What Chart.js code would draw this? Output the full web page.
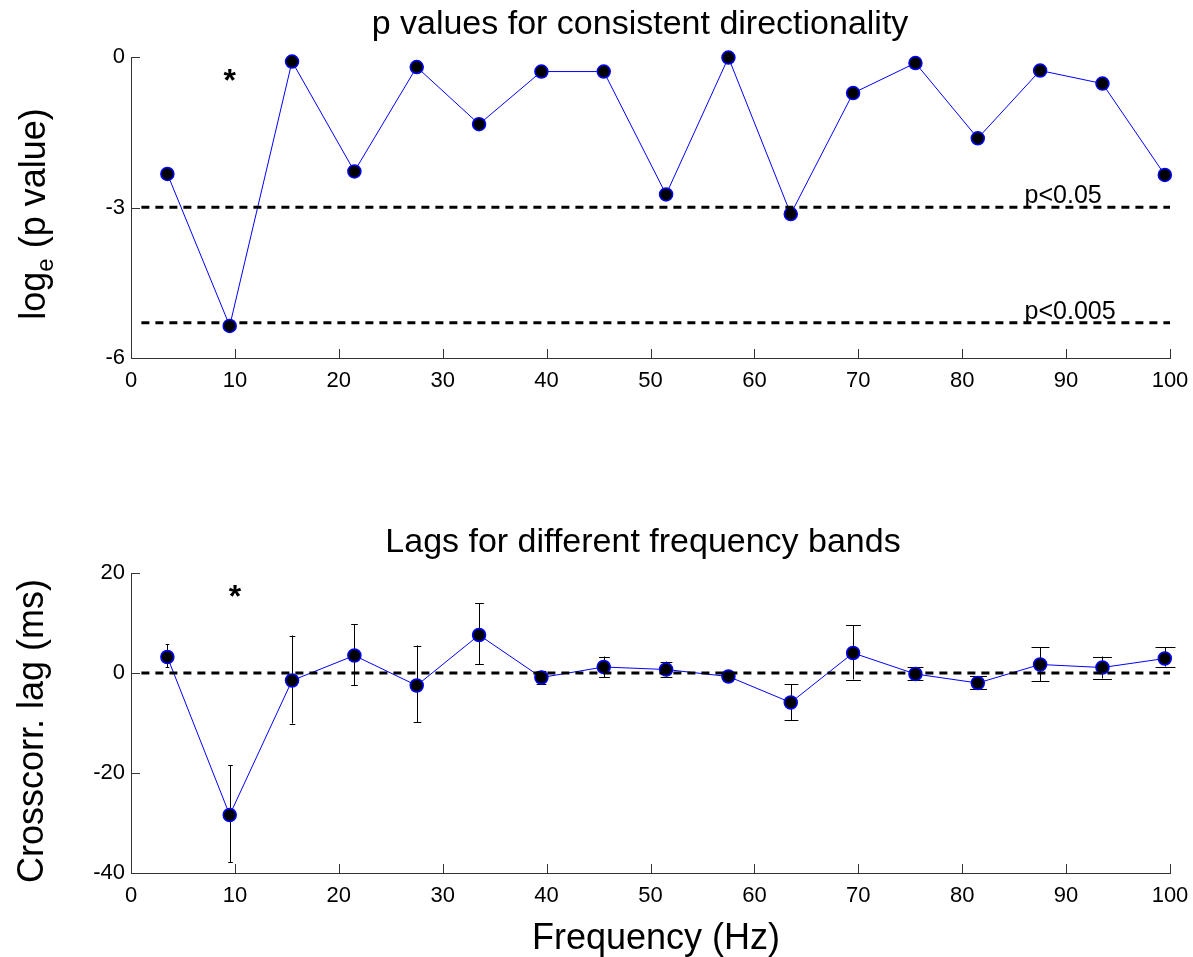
<!DOCTYPE html>
<html>
<head>
<meta charset="utf-8">
<script src="https://cdn.jsdelivr.net/npm/chart.js@4.4.1/dist/chart.umd.min.js"></script>
<style>
  body { margin: 0; background: #fff; width: 1193px; height: 957px; overflow: hidden; position: relative; }
  canvas { position: absolute; left: 0; }
</style>
</head>
<body>
<canvas id="pChart" width="1193" height="410" style="top:0"></canvas>
<canvas id="lagChart" width="1193" height="437" style="top:520px"></canvas>
<script>
// band centre frequencies (Hz)
const freqs = [3.5, 9.5, 15.5, 21.5, 27.5, 33.5, 39.5, 45.5, 51.5, 57.5, 63.5, 69.5, 75.5, 81.5, 87.5, 93.5, 99.5];

// top panel: log_e(p)
const logP = [-2.33, -5.36, -0.09, -2.28, -0.20, -1.34, -0.29, -0.29, -2.74, -0.01, -3.13, -0.72, -0.12, -1.62, -0.27, -0.53, -2.35];
const thresholdValues = [-2.996, -5.298];
const thresholdLabels = ['p<0.05', 'p<0.005'];
const thresholdSpan = [1, 100];
const thresholdLabelX = 86;

// bottom panel: crosscorrelation lag (ms) with error bar ends
const lagMean = [3.2, -28.4, -1.5, 3.5, -2.5, 7.6, -0.9, 1.2, 0.7, -0.7, -5.9, 4.0, -0.2, -2.0, 1.7, 1.1, 2.9];
const lagHigh = [5.7, -18.5, 7.5, 9.8, 5.5, 14.0, 0.5, 3.3, 2.3, -0.2, -2.2, 9.6, 1.2, -0.6, 5.1, 3.3, 5.2];
const lagLow = [1.2, -37.8, -10.1, -2.4, -9.8, 1.8, -2.3, -0.8, -0.7, -1.2, -9.4, -1.3, -1.3, -3.2, -1.6, -1.1, 1.3];
const zeroLine = [0, 0];

// axis ticks
const xTicks = [0, 10, 20, 30, 40, 50, 60, 70, 80, 90, 100];
const pTicks = [-6, -3, 0];
const lagTicks = [-40, -20, 0, 20];

// significance stars
const starTop = { x: 9.5, y: -0.39 };
const starBottom = { x: 10, y: 16.1 };

const FONT = "'Liberation Sans', Arial, Helvetica, sans-serif";
const AXIS_COLOR = '#333333';

const toXY = (xs, ys) => xs.map((x, i) => ({ x: x, y: ys[i] }));

// inward ticks, MATLAB style
const inwardTicks = {
  id: 'inwardTicks',
  afterDraw(chart) {
    const ctx = chart.ctx;
    const xs = chart.scales.x, ys = chart.scales.y;
    const area = chart.chartArea;
    ctx.save();
    ctx.strokeStyle = AXIS_COLOR;
    ctx.lineWidth = 1;
    ctx.beginPath();
    xs.ticks.forEach(t => {
      const px = Math.round(xs.getPixelForValue(t.value)) + 0.5;
      ctx.moveTo(px, area.bottom);
      ctx.lineTo(px, area.bottom - 9);
    });
    ys.ticks.forEach(t => {
      const py = Math.round(ys.getPixelForValue(t.value)) + 0.5;
      ctx.moveTo(area.left, py);
      ctx.lineTo(area.left + 9, py);
    });
    ctx.stroke();
    ctx.restore();
  }
};

// error bars for the lag panel
const errorBars = {
  id: 'errorBars',
  beforeDatasetsDraw(chart, args, opts) {
    if (!opts.low) return;
    const ctx = chart.ctx;
    const xs = chart.scales.x, ys = chart.scales.y;
    ctx.save();
    ctx.strokeStyle = '#000';
    ctx.lineWidth = 1;
    ctx.beginPath();
    freqs.forEach((f, i) => {
      const px = Math.round(xs.getPixelForValue(f)) + 0.5;
      const top = ys.getPixelForValue(opts.high[i]);
      const bot = ys.getPixelForValue(opts.low[i]);
      const cap = 1.5 + 0.085 * f;
      ctx.moveTo(px, top); ctx.lineTo(px, bot);
      ctx.moveTo(px - cap, Math.round(top) + 0.5); ctx.lineTo(px + cap, Math.round(top) + 0.5);
      ctx.moveTo(px - cap, Math.round(bot) + 0.5); ctx.lineTo(px + cap, Math.round(bot) + 0.5);
    });
    ctx.stroke();
    ctx.restore();
  }
};

// titles, axis labels and text annotations
const labels = {
  id: 'labels',
  afterDraw(chart, args, opts) {
    const ctx = chart.ctx;
    const xs = chart.scales.x, ys = chart.scales.y;
    ctx.save();
    ctx.fillStyle = '#000';

    ctx.font = '34px ' + FONT;
    ctx.textAlign = 'center';
    ctx.textBaseline = 'alphabetic';
    ctx.fillText(opts.title, opts.titleX, opts.titleY);

    if (opts.xLabel) {
      ctx.font = '36px ' + FONT;
      ctx.fillText(opts.xLabel, 656, opts.xLabelY);
    }

    // rotated y label, possibly with subscript
    ctx.translate(opts.yLabelX, opts.yLabelY);
    ctx.rotate(-Math.PI / 2);
    ctx.textAlign = 'left';
    ctx.textBaseline = 'middle';
    const parts = opts.yLabel;
    let total = 0;
    parts.forEach(p => {
      ctx.font = (p.sub ? '24px ' : '36px ') + FONT;
      total += ctx.measureText(p.text).width;
    });
    let cx = -total / 2;
    parts.forEach(p => {
      ctx.font = (p.sub ? '24px ' : '36px ') + FONT;
      ctx.fillText(p.text, cx, p.sub ? 11 : 0);
      cx += ctx.measureText(p.text).width;
    });
    ctx.setTransform(1, 0, 0, 1, 0, 0);

    // star
    ctx.font = 'bold 32px ' + FONT;
    ctx.textAlign = 'center';
    ctx.textBaseline = 'middle';
    ctx.fillText('*', xs.getPixelForValue(opts.star.x), ys.getPixelForValue(opts.star.y) + 6);

    // threshold labels
    if (opts.thresholds) {
      ctx.font = '25px ' + FONT;
      ctx.textAlign = 'left';
      ctx.textBaseline = 'alphabetic';
      thresholdValues.forEach((v, i) => {
        ctx.fillText(thresholdLabels[i], xs.getPixelForValue(thresholdLabelX), ys.getPixelForValue(v) - 4);
      });
    }
    ctx.restore();
  }
};

function axisOptions(yMin, yMax, yTickList, yWidth) {
  return {
    x: {
      type: 'linear',
      min: 0, max: 100,
      afterBuildTicks: s => { s.ticks = xTicks.map(v => ({ value: v })); },
      afterFit: s => { s.height = 52; s.paddingLeft = 0; s.paddingRight = 0; },
      grid: { display: false, drawTicks: false },
      border: { display: true, color: AXIS_COLOR, width: 1 },
      ticks: { color: '#000', font: { family: FONT, size: 22 }, padding: 10, maxRotation: 0, autoSkip: false }
    },
    y: {
      type: 'linear',
      min: yMin, max: yMax,
      afterBuildTicks: s => { s.ticks = yTickList.map(v => ({ value: v })); },
      afterFit: s => { s.width = yWidth; s.paddingTop = 0; s.paddingBottom = 0; },
      grid: { display: false, drawTicks: false },
      border: { display: true, color: AXIS_COLOR, width: 1 },
      ticks: { color: '#000', font: { family: FONT, size: 22 }, padding: 6, autoSkip: false }
    }
  };
}

const dashedStyle = {
  borderColor: '#000', borderWidth: 3, borderDash: [8, 6],
  pointRadius: 0, pointHoverRadius: 0, fill: false, clip: false
};
const dataStyle = {
  borderColor: '#0000ff', borderWidth: 1,
  pointRadius: 6.5, pointBackgroundColor: '#000', pointBorderColor: '#0000ff', pointBorderWidth: 1.5,
  pointHoverRadius: 6.5, fill: false, tension: 0, clip: false
};

new Chart(document.getElementById('pChart'), {
  type: 'line',
  data: {
    datasets: [
      ...thresholdValues.map(v => Object.assign({ data: toXY(thresholdSpan, [v, v]) }, dashedStyle)),
      Object.assign({ data: toXY(freqs, logP) }, dataStyle)
    ]
  },
  options: {
    responsive: false,
    animation: false,
    events: [],
    layout: { padding: { top: 57, right: 23, left: 0, bottom: 0 } },
    scales: axisOptions(-6, 0, pTicks, 131),
    plugins: {
      legend: { display: false },
      tooltip: { enabled: false },
      labels: {
        title: 'p values for consistent directionality', titleX: 640, titleY: 34,
        yLabel: [{ text: 'log' }, { text: 'e', sub: true }, { text: ' (p value)' }],
        yLabelX: 35, yLabelY: 214,
        star: starTop, thresholds: true
      }
    }
  },
  plugins: [inwardTicks, labels]
});

new Chart(document.getElementById('lagChart'), {
  type: 'line',
  data: {
    datasets: [
      Object.assign({ data: toXY(thresholdSpan, zeroLine) }, dashedStyle),
      Object.assign({ data: toXY(freqs, lagMean) }, dataStyle)
    ]
  },
  options: {
    responsive: false,
    animation: false,
    events: [],
    layout: { padding: { top: 53, right: 23, left: 0, bottom: 32 } },
    scales: axisOptions(-40, 20, lagTicks, 131),
    plugins: {
      legend: { display: false },
      tooltip: { enabled: false },
      errorBars: { high: lagHigh, low: lagLow },
      labels: {
        title: 'Lags for different frequency bands', titleX: 643, titleY: 32,
        xLabel: 'Frequency (Hz)', xLabelY: 429,
        yLabel: [{ text: 'Crosscorr. lag (ms)' }],
        yLabelX: 33, yLabelY: 211,
        star: starBottom
      }
    }
  },
  plugins: [inwardTicks, errorBars, labels]
});
</script>
</body>
</html>
